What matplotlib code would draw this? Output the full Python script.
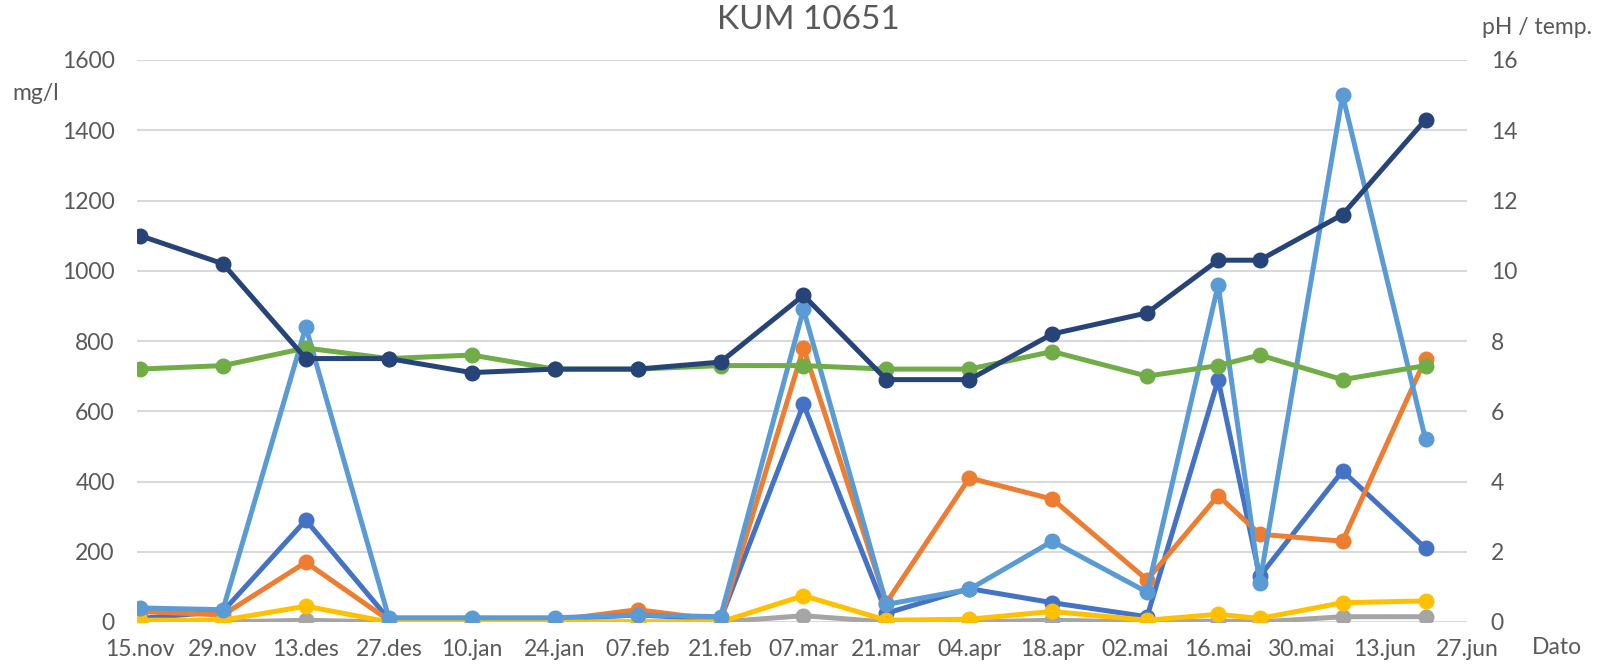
import numpy as np
import matplotlib
matplotlib.use('Agg')
import matplotlib.pyplot as plt
import matplotlib.dates as mdates

plt.rcParams['font.family'] = ['Lato', 'DejaVu Sans']

# sampling dates and measured values
dates = np.array(['2016-11-15', '2016-11-29', '2016-12-13', '2016-12-27', '2017-01-10',
                  '2017-01-24', '2017-02-07', '2017-02-21', '2017-03-07', '2017-03-21',
                  '2017-04-04', '2017-04-18', '2017-05-04', '2017-05-16', '2017-05-23',
                  '2017-06-06', '2017-06-20'], dtype='datetime64[D]')

# mg/l series (left axis)
serie1 = [10, 30, 290, 8, 8, 8, 20, 8, 620, 25, 95, 55, 15, 690, 130, 430, 210]
serie2 = [30, 20, 170, 5, 5, 5, 35, 5, 780, 55, 410, 350, 120, 360, 250, 230, 750]
serie3 = [0, 0, 5, 0, 0, 0, 0, 0, 18, 0, 0, 5, 0, 3, 0, 15, 15]
serie4 = [5, 5, 45, 0, 0, 0, 0, 0, 75, 5, 8, 30, 5, 22, 10, 55, 60]
serie5 = [40, 35, 840, 12, 12, 12, 20, 15, 890, 50, 93, 230, 85, 960, 110, 1500, 520]

# pH / temperature (right axis)
ph = [7.2, 7.3, 7.8, 7.5, 7.6, 7.2, 7.2, 7.3, 7.3, 7.2, 7.2, 7.7, 7.0, 7.3, 7.6, 6.9, 7.3]
temp = [11.0, 10.2, 7.5, 7.5, 7.1, 7.2, 7.2, 7.4, 9.3, 6.9, 6.9, 8.2, 8.8, 10.3, 10.3, 11.6, 14.3]

tick_dates = np.arange(np.datetime64('2016-11-15'), np.datetime64('2017-06-28'), 14)
tick_labels = ['15.nov', '29.nov', '13.des', '27.des', '10.jan', '24.jan', '07.feb',
               '21.feb', '07.mar', '21.mar', '04.apr', '18.apr', '02.mai', '16.mai',
               '30.mai', '13.jun', '27.jun']

left_colors = ['#4472C4', '#ED7D31', '#A5A5A5', '#FFC000', '#5B9BD5']
txt = '#595959'
fs = 16.5

fig = plt.figure(figsize=(15.98, 6.66), dpi=100)
ax = fig.add_axes([137 / 1598, 44 / 666, (1467 - 137) / 1598, (622 - 60) / 666])
ax2 = ax.twinx()

for vals, c in zip([serie1, serie2, serie3, serie4, serie5], left_colors):
    ax.plot(dates, vals, color=c, lw=3.6, marker='o', ms=10.5)

ax2.plot(dates, ph, color='#70AD47', lw=3.6, marker='o', ms=10.5)
ax2.plot(dates, temp, color='#264478', lw=3.6, marker='o', ms=10.5)

ax.set_ylim(0, 1600)
ax.set_yticks(np.arange(0, 1601, 200))
ax2.set_ylim(0, 16)
ax2.set_yticks(np.arange(0, 17, 2))

ax.set_xlim(mdates.date2num(tick_dates[0]) - 0.5, mdates.date2num(tick_dates[-1]))
ax.set_xticks(tick_dates)
ax.set_xticklabels(tick_labels)

ax.grid(axis='y', color='#D9D9D9', lw=1.5)
ax.set_axisbelow(True)
for a in (ax, ax2):
    for s in a.spines.values():
        s.set_visible(False)
    a.tick_params(length=0, labelsize=fs, labelcolor=txt)
ax.yaxis.set_tick_params(pad=16)
ax.xaxis.set_tick_params(pad=12)
ax2.yaxis.set_tick_params(pad=17)

fig.text(808 / 1598, 1 - 20 / 666, 'KUM 10651', ha='center', va='center', fontsize=24, color=txt)
fig.text(12 / 1598, 1 - 94 / 666, 'mg/l', ha='left', va='center', fontsize=fs, color=txt)
fig.text(1592 / 1598, 1 - 28 / 666, 'pH / temp.', ha='right', va='center', fontsize=fs, color=txt)
fig.text(1532 / 1598, 1 - 648 / 666, 'Dato', ha='left', va='center', fontsize=fs, color=txt)

fig.savefig('out.png', dpi=100)
